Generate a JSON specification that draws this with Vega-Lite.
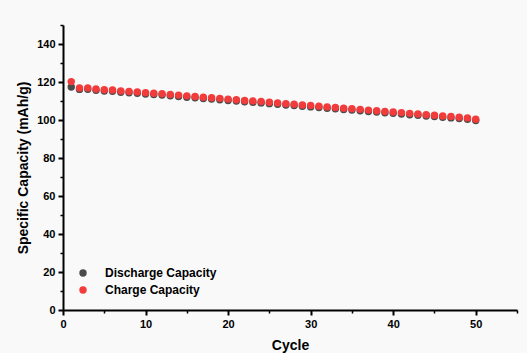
{
  "$schema": "https://vega.github.io/schema/vega-lite/v6.json",
  "width": 454,
  "height": 285,
  "autosize": {"type": "none"},
  "padding": {"left": 63, "top": 25, "right": 10, "bottom": 43},
  "background": "#f9f9f9",
  "config": {
    "view": {"stroke": null},
    "font": "Liberation Sans"
  },
  "data": {
    "values": [
      {"cycle": 1, "series": "Discharge Capacity", "capacity": 117.4},
      {"cycle": 2, "series": "Discharge Capacity", "capacity": 116.1},
      {"cycle": 3, "series": "Discharge Capacity", "capacity": 116.2},
      {"cycle": 4, "series": "Discharge Capacity", "capacity": 115.6},
      {"cycle": 5, "series": "Discharge Capacity", "capacity": 115.2},
      {"cycle": 6, "series": "Discharge Capacity", "capacity": 115.1},
      {"cycle": 7, "series": "Discharge Capacity", "capacity": 114.6},
      {"cycle": 8, "series": "Discharge Capacity", "capacity": 114.3},
      {"cycle": 9, "series": "Discharge Capacity", "capacity": 114.1},
      {"cycle": 10, "series": "Discharge Capacity", "capacity": 113.7},
      {"cycle": 11, "series": "Discharge Capacity", "capacity": 113.4},
      {"cycle": 12, "series": "Discharge Capacity", "capacity": 113.1},
      {"cycle": 13, "series": "Discharge Capacity", "capacity": 112.7},
      {"cycle": 14, "series": "Discharge Capacity", "capacity": 112.4},
      {"cycle": 15, "series": "Discharge Capacity", "capacity": 112.0},
      {"cycle": 16, "series": "Discharge Capacity", "capacity": 111.7},
      {"cycle": 17, "series": "Discharge Capacity", "capacity": 111.3},
      {"cycle": 18, "series": "Discharge Capacity", "capacity": 111.0},
      {"cycle": 19, "series": "Discharge Capacity", "capacity": 110.7},
      {"cycle": 20, "series": "Discharge Capacity", "capacity": 110.3},
      {"cycle": 21, "series": "Discharge Capacity", "capacity": 110.0},
      {"cycle": 22, "series": "Discharge Capacity", "capacity": 109.6},
      {"cycle": 23, "series": "Discharge Capacity", "capacity": 109.3},
      {"cycle": 24, "series": "Discharge Capacity", "capacity": 109.0},
      {"cycle": 25, "series": "Discharge Capacity", "capacity": 108.6},
      {"cycle": 26, "series": "Discharge Capacity", "capacity": 108.3},
      {"cycle": 27, "series": "Discharge Capacity", "capacity": 107.9},
      {"cycle": 28, "series": "Discharge Capacity", "capacity": 107.6},
      {"cycle": 29, "series": "Discharge Capacity", "capacity": 107.2},
      {"cycle": 30, "series": "Discharge Capacity", "capacity": 106.9},
      {"cycle": 31, "series": "Discharge Capacity", "capacity": 106.6},
      {"cycle": 32, "series": "Discharge Capacity", "capacity": 106.2},
      {"cycle": 33, "series": "Discharge Capacity", "capacity": 105.9},
      {"cycle": 34, "series": "Discharge Capacity", "capacity": 105.5},
      {"cycle": 35, "series": "Discharge Capacity", "capacity": 105.2},
      {"cycle": 36, "series": "Discharge Capacity", "capacity": 104.9},
      {"cycle": 37, "series": "Discharge Capacity", "capacity": 104.5},
      {"cycle": 38, "series": "Discharge Capacity", "capacity": 104.2},
      {"cycle": 39, "series": "Discharge Capacity", "capacity": 103.8},
      {"cycle": 40, "series": "Discharge Capacity", "capacity": 103.5},
      {"cycle": 41, "series": "Discharge Capacity", "capacity": 103.2},
      {"cycle": 42, "series": "Discharge Capacity", "capacity": 102.8},
      {"cycle": 43, "series": "Discharge Capacity", "capacity": 102.5},
      {"cycle": 44, "series": "Discharge Capacity", "capacity": 102.1},
      {"cycle": 45, "series": "Discharge Capacity", "capacity": 101.8},
      {"cycle": 46, "series": "Discharge Capacity", "capacity": 101.4},
      {"cycle": 47, "series": "Discharge Capacity", "capacity": 101.1},
      {"cycle": 48, "series": "Discharge Capacity", "capacity": 100.8},
      {"cycle": 49, "series": "Discharge Capacity", "capacity": 100.4},
      {"cycle": 50, "series": "Discharge Capacity", "capacity": 99.7},
      {"cycle": 1, "series": "Charge Capacity", "capacity": 120.2},
      {"cycle": 2, "series": "Charge Capacity", "capacity": 116.8},
      {"cycle": 3, "series": "Charge Capacity", "capacity": 116.9},
      {"cycle": 4, "series": "Charge Capacity", "capacity": 116.3},
      {"cycle": 5, "series": "Charge Capacity", "capacity": 115.9},
      {"cycle": 6, "series": "Charge Capacity", "capacity": 115.8},
      {"cycle": 7, "series": "Charge Capacity", "capacity": 115.3},
      {"cycle": 8, "series": "Charge Capacity", "capacity": 115.0},
      {"cycle": 9, "series": "Charge Capacity", "capacity": 114.8},
      {"cycle": 10, "series": "Charge Capacity", "capacity": 114.4},
      {"cycle": 11, "series": "Charge Capacity", "capacity": 114.1},
      {"cycle": 12, "series": "Charge Capacity", "capacity": 113.8},
      {"cycle": 13, "series": "Charge Capacity", "capacity": 113.4},
      {"cycle": 14, "series": "Charge Capacity", "capacity": 113.1},
      {"cycle": 15, "series": "Charge Capacity", "capacity": 112.7},
      {"cycle": 16, "series": "Charge Capacity", "capacity": 112.4},
      {"cycle": 17, "series": "Charge Capacity", "capacity": 112.0},
      {"cycle": 18, "series": "Charge Capacity", "capacity": 111.7},
      {"cycle": 19, "series": "Charge Capacity", "capacity": 111.4},
      {"cycle": 20, "series": "Charge Capacity", "capacity": 111.0},
      {"cycle": 21, "series": "Charge Capacity", "capacity": 110.7},
      {"cycle": 22, "series": "Charge Capacity", "capacity": 110.3},
      {"cycle": 23, "series": "Charge Capacity", "capacity": 110.0},
      {"cycle": 24, "series": "Charge Capacity", "capacity": 109.7},
      {"cycle": 25, "series": "Charge Capacity", "capacity": 109.3},
      {"cycle": 26, "series": "Charge Capacity", "capacity": 109.0},
      {"cycle": 27, "series": "Charge Capacity", "capacity": 108.6},
      {"cycle": 28, "series": "Charge Capacity", "capacity": 108.3},
      {"cycle": 29, "series": "Charge Capacity", "capacity": 107.9},
      {"cycle": 30, "series": "Charge Capacity", "capacity": 107.6},
      {"cycle": 31, "series": "Charge Capacity", "capacity": 107.3},
      {"cycle": 32, "series": "Charge Capacity", "capacity": 106.9},
      {"cycle": 33, "series": "Charge Capacity", "capacity": 106.6},
      {"cycle": 34, "series": "Charge Capacity", "capacity": 106.2},
      {"cycle": 35, "series": "Charge Capacity", "capacity": 105.9},
      {"cycle": 36, "series": "Charge Capacity", "capacity": 105.6},
      {"cycle": 37, "series": "Charge Capacity", "capacity": 105.2},
      {"cycle": 38, "series": "Charge Capacity", "capacity": 104.9},
      {"cycle": 39, "series": "Charge Capacity", "capacity": 104.5},
      {"cycle": 40, "series": "Charge Capacity", "capacity": 104.2},
      {"cycle": 41, "series": "Charge Capacity", "capacity": 103.9},
      {"cycle": 42, "series": "Charge Capacity", "capacity": 103.5},
      {"cycle": 43, "series": "Charge Capacity", "capacity": 103.2},
      {"cycle": 44, "series": "Charge Capacity", "capacity": 102.8},
      {"cycle": 45, "series": "Charge Capacity", "capacity": 102.5},
      {"cycle": 46, "series": "Charge Capacity", "capacity": 102.1},
      {"cycle": 47, "series": "Charge Capacity", "capacity": 101.8},
      {"cycle": 48, "series": "Charge Capacity", "capacity": 101.5},
      {"cycle": 49, "series": "Charge Capacity", "capacity": 101.1},
      {"cycle": 50, "series": "Charge Capacity", "capacity": 100.4}
    ]
  },
  "mark": {"type": "point", "filled": true, "opacity": 1, "size": 55},
  "encoding": {
    "x": {
      "field": "cycle",
      "type": "quantitative",
      "scale": {"domain": [0, 55], "nice": false, "zero": false},
      "axis": {
        "title": "Cycle",
        "values": [0, 5, 10, 15, 20, 25, 30, 35, 40, 45, 50, 55],
        "labelExpr": "datum.value % 10 === 0 && datum.value <= 50 ? datum.label : ''",
        "grid": false,
        "domainColor": "#000000",
        "domainWidth": 2,
        "tickColor": "#000000",
        "tickWidth": {"condition": {"test": "datum.value % 10 === 0", "value": 2}, "value": 1.5},
        "tickSize": {"condition": {"test": "datum.value % 10 === 0", "value": 5}, "value": 3},
        "labelFont": "Liberation Sans",
        "labelFontWeight": "bold",
        "labelFontSize": 11,
        "labelColor": "#000000",
        "labelPadding": 3,
        "labelFlush": false,
        "titleFont": "Liberation Sans",
        "titleFontWeight": "bold",
        "titleFontSize": 14,
        "titleColor": "#000000",
        "titlePadding": 9
      }
    },
    "y": {
      "field": "capacity",
      "type": "quantitative",
      "scale": {"domain": [0, 150], "nice": false},
      "axis": {
        "title": "Specific Capacity (mAh/g)",
        "values": [0, 10, 20, 30, 40, 50, 60, 70, 80, 90, 100, 110, 120, 130, 140, 150],
        "labelExpr": "datum.value % 20 === 0 ? datum.label : ''",
        "grid": false,
        "domainColor": "#000000",
        "domainWidth": 2,
        "tickColor": "#000000",
        "tickWidth": {"condition": {"test": "datum.value % 20 === 0", "value": 2}, "value": 1.5},
        "tickSize": {"condition": {"test": "datum.value % 20 === 0", "value": 5}, "value": 3},
        "labelFont": "Liberation Sans",
        "labelFontWeight": "bold",
        "labelFontSize": 11,
        "labelColor": "#000000",
        "labelPadding": 3,
        "labelFlush": false,
        "titleFont": "Liberation Sans",
        "titleFontWeight": "bold",
        "titleFontSize": 14,
        "titleColor": "#000000",
        "titlePadding": 6
      }
    },
    "color": {
      "field": "series",
      "type": "nominal",
      "scale": {"domain": ["Discharge Capacity", "Charge Capacity"], "range": ["#4a4a4a", "#f23b3b"]},
      "legend": {
        "title": null,
        "orient": "none",
        "legendX": 14,
        "legendY": 242,
        "symbolSize": 55,
        "labelFont": "Liberation Sans",
        "labelFontWeight": "bold",
        "labelFontSize": 12,
        "labelColor": "#000000",
        "labelOffset": 16,
        "rowPadding": 5
      }
    }
  }
}
